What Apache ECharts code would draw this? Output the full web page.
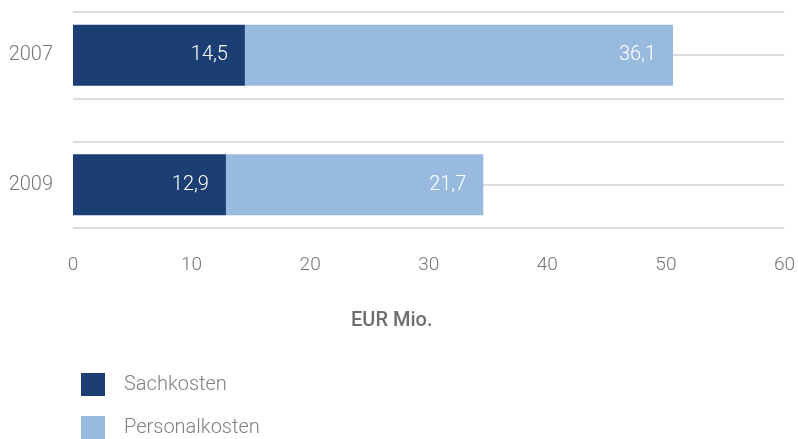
<!DOCTYPE html>
<html>
<head>
<meta charset="utf-8">
<script src="https://cdn.jsdelivr.net/npm/echarts@6/dist/echarts.min.js"></script>
<style>
  html, body { margin: 0; padding: 0; background: #fff; }
  #chart { width: 798px; height: 439px; }
</style>
</head>
<body>
<div id="chart"></div>
<script>
const years = ['2007', '2009']
const sachkosten = [14.5, 12.9]
const personalkosten = [36.1, 21.7]
const xTicks = [0, 60, 10] // min, max, interval

// rows of the y axis from bottom to top; empty rows only carry grid lines
const rows = ['', years[1], '', '', years[0], '']

const textColor = '#767676'
const font = 'Roboto'

function pairs(values) {
  return values.map((v, i) => [v, years[i]])
}

function fmt(p) {
  return String(p.value[0]).replace('.', ',')
}

function legendAt(name, top) {
  return {
    left: 76,
    top: top,
    itemWidth: 24,
    itemHeight: 23,
    icon: 'rect',
    textStyle: { color: '#808080', fontSize: 20, fontFamily: font, fontWeight: 300, padding: [0, 0, 0, 14] },
    data: [name]
  }
}

const barLabel = {
  show: true,
  position: 'insideRight',
  distance: 17,
  color: '#fff',
  fontSize: 20,
  fontFamily: font,
  fontWeight: 300,
  formatter: fmt
}

const chart = echarts.init(document.getElementById('chart'))
chart.setOption({
  animation: false,
  grid: {
    left: 73,
    right: 13,
    top: 12,
    bottom: 211
  },
  title: {
    text: 'EUR Mio.',
    left: 346,
    top: 306,
    textStyle: { color: '#6e6e6e', fontSize: 20, fontFamily: font, fontWeight: 500 }
  },
  legend: [
    legendAt('Sachkosten', 368),
    legendAt('Personalkosten', 411)
  ],
  xAxis: {
    type: 'value',
    min: xTicks[0],
    max: xTicks[1],
    interval: xTicks[2],
    axisLine: { show: false },
    axisTick: { show: false },
    splitLine: { show: false },
    axisLabel: { color: textColor, fontSize: 19, fontFamily: font, fontWeight: 300, margin: 28 }
  },
  yAxis: {
    type: 'category',
    data: rows,
    boundaryGap: false,
    axisLine: { show: false },
    axisTick: { show: false },
    axisLabel: { color: textColor, fontSize: 20, fontFamily: font, fontWeight: 300, margin: 20 },
    splitLine: { show: true, lineStyle: { color: '#dddddd', width: 2 } }
  },
  series: [
    {
      name: 'Sachkosten',
      type: 'bar',
      stack: 'kosten',
      barWidth: 61,
      data: pairs(sachkosten),
      itemStyle: { color: '#1b3f73' },
      label: barLabel
    },
    {
      name: 'Personalkosten',
      type: 'bar',
      stack: 'kosten',
      barWidth: 61,
      data: pairs(personalkosten),
      itemStyle: { color: '#99badf' },
      label: barLabel
    }
  ]
})
</script>
</body>
</html>
